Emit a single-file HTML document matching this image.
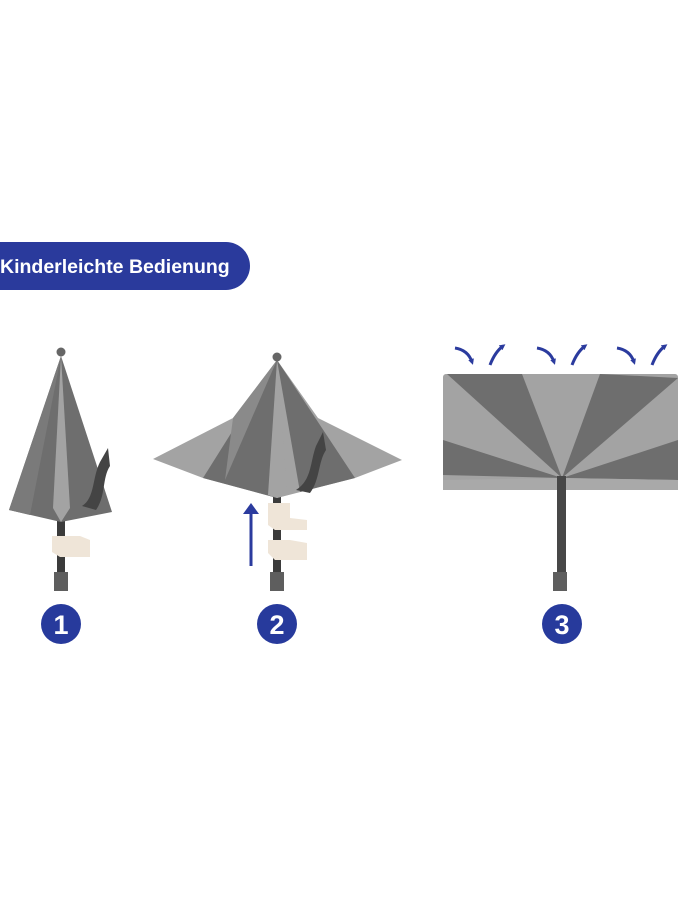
<!DOCTYPE html>
<html><head><meta charset="utf-8"><style>
html,body{margin:0;padding:0;background:#fff;width:690px;height:920px;overflow:hidden}
svg{display:block}
</style></head><body>
<svg width="690" height="920" viewBox="0 0 690 920" xmlns="http://www.w3.org/2000/svg">
<defs>
<marker id="ah" markerWidth="6" markerHeight="6" refX="3" refY="3" orient="auto" markerUnits="userSpaceOnUse"><path d="M0,0 L6,3 L0,6 z" fill="#2b3b9e"/></marker>
</defs>
<rect x="-30" y="242" width="280" height="48" rx="24" fill="#2a3a9c"/>
<text x="0" y="273" font-family="Liberation Sans, sans-serif" font-weight="bold" font-size="19.5" fill="#fff">Kinderleichte Bedienung</text>

<rect x="57" y="515" width="8" height="60" fill="#3b3b3b"/>
<rect x="54" y="572" width="14" height="19" fill="#5e5e5e"/>
<polygon points="61,356 9,510 61,522 112,512" fill="#6e6e6e"/>
<polygon points="61,356 53,508 61,522 70,508" fill="#a3a3a3"/>
<polygon points="61,356 9,510 30,515" fill="#7a7a7a"/>
<path d="M108,448 L100,462 C92,478 95,498 82,506 L96,510 C106,496 102,478 110,466 Z" fill="#444"/>
<circle cx="61" cy="352" r="4.5" fill="#666"/>
<path d="M52,536 L80,536 L90,540 L90,557 L60,557 L52,552 Z" fill="#efe5d8"/>
<circle cx="61" cy="624" r="20" fill="#273a9c"/>
<text x="61" y="634" text-anchor="middle" font-family="Liberation Sans, sans-serif" font-weight="bold" font-size="27" fill="#fff">1</text>

<rect x="273" y="495" width="8" height="80" fill="#3b3b3b"/>
<rect x="270" y="572" width="14" height="19" fill="#5e5e5e"/>
<polygon points="277,360 233,418 153,459 203,478 277,498 355,478 402,460 318,418" fill="#a3a3a3"/>
<polygon points="277,360 203,478 277,498" fill="#6e6e6e"/>
<polygon points="277,360 268,495 277,498 287,495" fill="#a3a3a3"/>
<polygon points="277,360 300,492 355,478" fill="#6e6e6e"/>
<polygon points="277,360 233,418 225,480" fill="#8a8a8a"/>
<path d="M323,432 L316,446 C310,462 312,480 296,490 L310,493 C320,480 318,462 326,450 Z" fill="#444"/>
<circle cx="277" cy="357" r="4.5" fill="#666"/>
<path d="M268,503 L290,503 L290,518 L307,520 L307,530 L275,530 L268,525 Z" fill="#efe5d8"/>
<path d="M268,540 L290,540 L307,543 L307,560 L275,560 L268,553 Z" fill="#efe5d8"/>
<line x1="251" y1="566" x2="251" y2="512" stroke="#2b3b9e" stroke-width="3"/>
<polygon points="243,514 251,503 259,514" fill="#2b3b9e"/>
<circle cx="277" cy="624" r="20" fill="#273a9c"/>
<text x="277" y="634" text-anchor="middle" font-family="Liberation Sans, sans-serif" font-weight="bold" font-size="27" fill="#fff">2</text>

<rect x="443" y="374" width="235" height="116" rx="3" fill="#a3a3a3"/>
<polygon points="562,478 447,374 522,374" fill="#6e6e6e"/>
<polygon points="562,478 600,374 678,378" fill="#6e6e6e"/>
<polygon points="562,478 678,440 678,480" fill="#6e6e6e"/>
<polygon points="562,478 443,475 443,440" fill="#6e6e6e"/>
<polygon points="562,478 678,480 678,490 443,490 443,480" fill="#a9a9a9"/>
<rect x="557" y="476" width="9" height="98" fill="#474747"/>
<rect x="553" y="572" width="14" height="19" fill="#5e5e5e"/>
<g fill="none" stroke="#2b3b9e" stroke-width="3" marker-end="url(#ah)">
<path d="M455,348 Q468,350 472,362"/>
<path d="M490,365 Q495,352 503,346"/>
<path d="M537,348 Q550,350 554,362"/>
<path d="M572,365 Q577,352 585,346"/>
<path d="M617,348 Q630,350 634,362"/>
<path d="M652,365 Q657,352 665,346"/>
</g>
<circle cx="562" cy="624" r="20" fill="#273a9c"/>
<text x="562" y="634" text-anchor="middle" font-family="Liberation Sans, sans-serif" font-weight="bold" font-size="27" fill="#fff">3</text>
</svg>
</body></html>
